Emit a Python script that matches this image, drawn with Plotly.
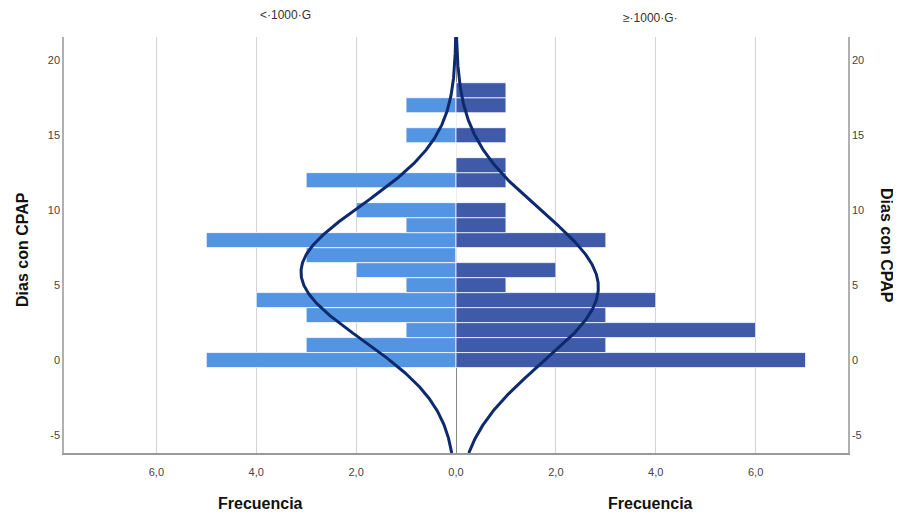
import numpy as np
import plotly.graph_objects as go

# Data
dias = list(range(0, 19))
freq_menor = [5, 3, 1, 3, 4, 1, 2, 3, 5, 1, 2, 0, 3, 0, 0, 1, 0, 1, 0]   # < 1000 G
freq_mayor = [7, 3, 6, 3, 4, 1, 2, 0, 3, 1, 1, 0, 1, 1, 0, 1, 0, 1, 1]   # >= 1000 G
grupos = ["<·1000·G", "≥·1000·G·"]
x_tickvals = [-6, -4, -2, 0, 2, 4, 6]
x_ticktext = ["6,0", "4,0", "2,0", "0,0", "2,0", "4,0", "6,0"]
y_tickvals = [-5, 0, 5, 10, 15, 20]
y_ticktext = ["-5", "0", "5", "10", "15", "20"]

Y_RANGE = [-6.2, 21.55]
X_RANGE = [-7.85, 7.85]

LIGHT = "#5495e3"
DARK = "#3f5aa9"
CURVE = "#0d2a6e"

# page offset (body margin) compensation
OFF = 8
PL, PR, PT, PB = 64, 848, 37, 453   # plot area in page pixels
W, H = 893, 510
PW, PH = PR - PL, PB - PT


def px(xpix):
    return (xpix - PL) / PW


def py(ypix):
    return (PB - ypix) / PH


def normal_curve(values, counts):
    v = np.array(values, dtype=float)
    c = np.array(counts, dtype=float)
    n = c.sum()
    mean = (v * c).sum() / n
    sd = np.sqrt(((v - mean) ** 2 * c).sum() / (n - 1))
    yy = np.linspace(Y_RANGE[0], Y_RANGE[1], 400)
    xx = n / (sd * np.sqrt(2 * np.pi)) * np.exp(-0.5 * ((yy - mean) / sd) ** 2)
    return xx, yy


fig = go.Figure()

fig.add_trace(go.Bar(
    y=dias, x=[-f for f in freq_menor], orientation="h", width=1.0,
    marker=dict(color=LIGHT, line=dict(color="rgba(255,255,255,0.75)", width=1)),
    showlegend=False, hoverinfo="skip"))
fig.add_trace(go.Bar(
    y=dias, x=freq_mayor, orientation="h", width=1.0,
    marker=dict(color=DARK, line=dict(color="rgba(255,255,255,0.75)", width=1)),
    showlegend=False, hoverinfo="skip"))

xl, yl = normal_curve(dias, freq_menor)
xr, yr = normal_curve(dias, freq_mayor)
fig.add_trace(go.Scatter(x=-xl, y=yl, mode="lines",
                         line=dict(color=CURVE, width=3), showlegend=False, hoverinfo="skip"))
fig.add_trace(go.Scatter(x=xr, y=yr, mode="lines",
                         line=dict(color=CURVE, width=3), showlegend=False, hoverinfo="skip"))

# invisible trace for right y axis
fig.add_trace(go.Scatter(x=[0], y=[0], yaxis="y2", mode="markers",
                         marker=dict(opacity=0), showlegend=False, hoverinfo="skip"))

tick_font = dict(family="Liberation Sans Narrow, Arial Narrow, Liberation Sans, Arial", size=11, color="#444")

fig.update_layout(
    width=W, height=H,
    margin=dict(l=PL - OFF, r=OFF + W - PR, t=PT - OFF, b=OFF + H - PB),
    paper_bgcolor="white", plot_bgcolor="white",
    barmode="overlay",
    font=tick_font,
    xaxis=dict(range=X_RANGE, tickvals=x_tickvals, ticktext=x_ticktext,
               showgrid=True, gridcolor="#d4d4d4", gridwidth=1,
               zeroline=True, zerolinecolor="#888", zerolinewidth=1,
               showline=True, linecolor="#9a9a9a", linewidth=1.5,
               ticks="", ticklabelstandoff=8, tickfont=tick_font),
    yaxis=dict(range=Y_RANGE, tickvals=y_tickvals, ticktext=y_ticktext,
               showgrid=False, zeroline=False,
               showline=True, linecolor="#b0b0b0", linewidth=1.5,
               ticks="", tickfont=tick_font),
    yaxis2=dict(range=Y_RANGE, tickvals=y_tickvals, ticktext=y_ticktext,
                overlaying="y", side="right", showgrid=False, zeroline=False,
                showline=True, linecolor="#b0b0b0", linewidth=1.5,
                ticks="", tickfont=tick_font),
)

ann_font = dict(family="Liberation Sans, Arial", size=16, color="#111")
fig.add_annotation(text="<b>Dias con CPAP</b>", xref="paper", yref="paper",
                   x=px(22), y=py(250), xanchor="center", yanchor="middle",
                   textangle=-90, showarrow=False, font=ann_font)
fig.add_annotation(text="<b>Dias con CPAP</b>", xref="paper", yref="paper",
                   x=px(887), y=py(245), xanchor="center", yanchor="middle",
                   textangle=90, showarrow=False, font=ann_font)
fig.add_annotation(text="<b>Frecuencia</b>", xref="paper", yref="paper",
                   x=px(260), y=py(503), xanchor="center", yanchor="middle",
                   showarrow=False, font=ann_font)
fig.add_annotation(text="<b>Frecuencia</b>", xref="paper", yref="paper",
                   x=px(650), y=py(503), xanchor="center", yanchor="middle",
                   showarrow=False, font=ann_font)
top_font = dict(family="Liberation Sans Narrow, Arial Narrow, Liberation Sans", size=12, color="#333")
fig.add_annotation(text=grupos[0], xref="paper", yref="paper",
                   x=px(285), y=py(15), xanchor="center", yanchor="middle",
                   showarrow=False, font=top_font)
fig.add_annotation(text=grupos[1], xref="paper", yref="paper",
                   x=px(650), y=py(18), xanchor="center", yanchor="middle",
                   showarrow=False, font=top_font)

fig.write_html("out.html")
